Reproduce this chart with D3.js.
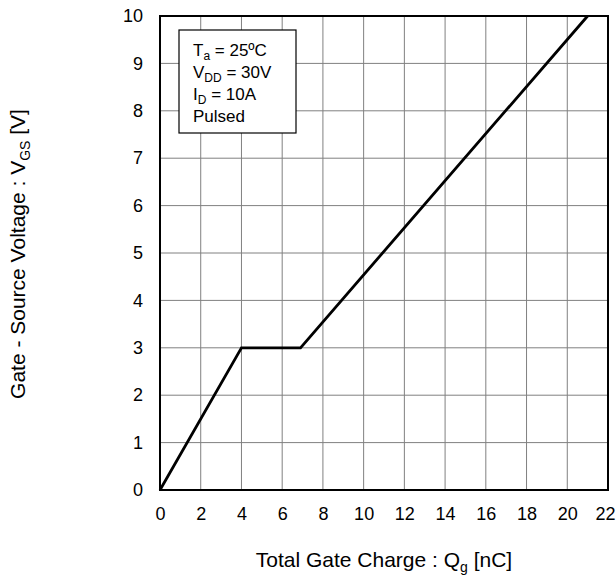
<!DOCTYPE html>
<html>
<head>
<meta charset="utf-8">
<script src="https://cdn.jsdelivr.net/npm/d3@7"></script>
<style>
  body { margin: 0; background: #fff; }
  text { font-family: "Liberation Sans", Arial, sans-serif; fill: #000; }
</style>
</head>
<body>
<div id="holder"></div>
<script>
// gate charge curve
var chargeNC = [0, 4, 6.9, 21];
var gateVolts = [0, 3, 3, 10];
var xTicks = [0, 2, 4, 6, 8, 10, 12, 14, 16, 18, 20, 22];
var yTicks = [0, 1, 2, 3, 4, 5, 6, 7, 8, 9, 10];

function generateChart(){
  var margin = {top: 16, right: 8, bottom: 86, left: 160};
  var fullWidth = 616;
  var fullHeight = 576;
  var width = fullWidth - margin.left - margin.right;
  var height = fullHeight - margin.top - margin.bottom;

  var svg = d3.select('#holder').append('svg')
    .attr('width', fullWidth)
    .attr('height', fullHeight)
    .append('g')
    .attr('transform', 'translate(' + margin.left + ',' + margin.top + ')');

  var x = d3.scaleLinear().domain([0, 22]).range([0, width]);
  var y = d3.scaleLinear().domain([0, 10]).range([height, 0]);

  // grid
  svg.append('g').selectAll('line.vg')
    .data(xTicks)
    .enter().append('line')
      .attr('x1', function(d){ return x(d); })
      .attr('x2', function(d){ return x(d); })
      .attr('y1', 0).attr('y2', height)
      .attr('stroke', '#808080').attr('stroke-width', 1);
  svg.append('g').selectAll('line.hg')
    .data(yTicks)
    .enter().append('line')
      .attr('y1', function(d){ return y(d); })
      .attr('y2', function(d){ return y(d); })
      .attr('x1', 0).attr('x2', width)
      .attr('stroke', '#808080').attr('stroke-width', 1);

  // axes (labels only)
  var xaxis = d3.axisBottom(x).tickValues(xTicks).tickSize(0).tickPadding(17);
  var gx = svg.append('g')
    .attr('transform', 'translate(0,' + height + ')')
    .call(xaxis);
  gx.select('.domain').remove();
  gx.selectAll('text').style('font-size', '18px').attr('font-family', null);
  // last label sits against the right edge
  gx.selectAll('text').filter(function(d){ return d === 22; }).attr('dx', -3);

  var yaxis = d3.axisLeft(y).tickValues(yTicks).tickSize(0).tickPadding(17);
  var gy = svg.append('g').call(yaxis);
  gy.select('.domain').remove();
  gy.selectAll('text').style('font-size', '18px').attr('font-family', null);

  // frame
  svg.append('rect')
    .attr('x', 0).attr('y', 0)
    .attr('width', width).attr('height', height)
    .attr('fill', 'none').attr('stroke', '#000').attr('stroke-width', 2);

  // curve
  var pts = chargeNC.map(function(q, i){ return [q, gateVolts[i]]; });
  var line = d3.line()
    .x(function(d){ return x(d[0]); })
    .y(function(d){ return y(d[1]); });
  svg.append('path')
    .datum(pts)
    .attr('d', line)
    .attr('fill', 'none')
    .attr('stroke', '#000')
    .attr('stroke-width', 2.8);

  // condition box
  var box = svg.append('g').attr('transform', 'translate(19,14)');
  box.append('rect')
    .attr('width', 117).attr('height', 103)
    .attr('fill', '#fff').attr('stroke', '#000').attr('stroke-width', 1.2);
  var lines = [
    ['T', 'a', ' = 25ºC'],
    ['V', 'DD', ' = 30V'],
    ['I', 'D', ' = 10A'],
    ['Pulsed', '', '']
  ];
  lines.forEach(function(l, i){
    var t = box.append('text')
      .attr('x', 14).attr('y', 26 + i * 22)
      .style('font-size', '17px');
    t.append('tspan').text(l[0]);
    if (l[1]) {
      t.append('tspan').attr('dy', 4).style('font-size', '12px').text(l[1]);
      t.append('tspan').attr('dy', -4).text(l[2]);
    }
  });

  // axis titles
  var xt = svg.append('text')
    .attr('x', width / 2).attr('y', height + 77)
    .attr('text-anchor', 'middle')
    .style('font-size', '21px');
  xt.append('tspan').text('Total Gate Charge : Q');
  xt.append('tspan').attr('dy', 5).style('font-size', '14px').text('g');
  xt.append('tspan').attr('dy', -5).text(' [nC]');

  var yt = svg.append('text')
    .attr('transform', 'translate(-135,' + (height / 2 + 1) + ') rotate(-90)')
    .attr('text-anchor', 'middle')
    .style('font-size', '21px');
  yt.append('tspan').text('Gate - Source Voltage : V');
  yt.append('tspan').attr('dy', 5).style('font-size', '14px').text('GS');
  yt.append('tspan').attr('dy', -5).text(' [V]');
}

generateChart();
</script>
</body>
</html>
